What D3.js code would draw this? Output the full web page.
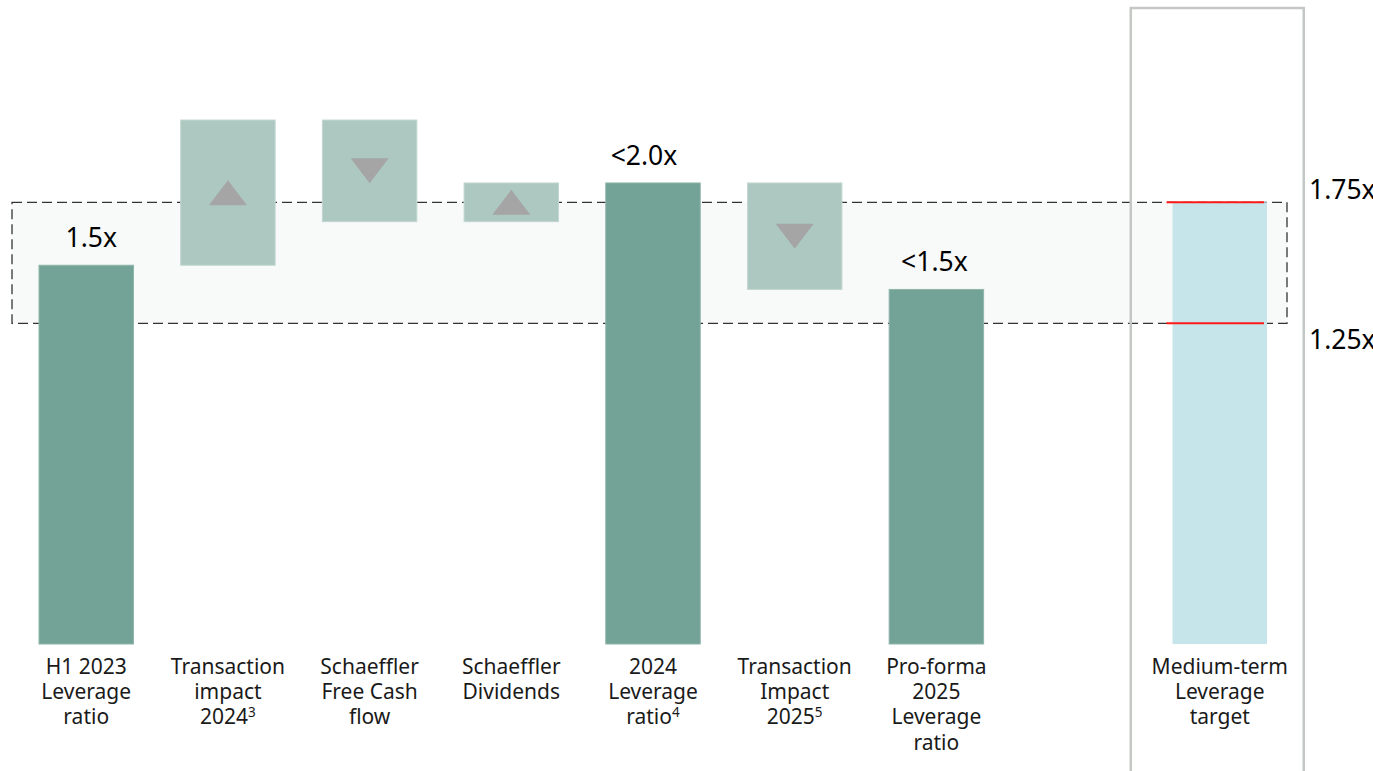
<!DOCTYPE html>
<html>
<head>
<meta charset="utf-8">
<script src="https://cdn.jsdelivr.net/npm/d3@7"></script>
<style>
  body { margin: 0; background: #fff; }
  svg { display: block; font-family: "Noto Sans", sans-serif; }
</style>
</head>
<body>
<div id="chart"></div>
<script>
// chart data
var steps = ["h1", "trans24", "fcf", "div", "lev24", "trans25", "pro25", "gap", "target"];
var kinds = ["total", "delta", "delta", "delta", "total", "delta", "total", "gap", "target"];
var values = [1.49, 0.60, -0.42, 0.16, null, -0.44, null, null, 1.75];
var valueLabels = ["1.5x", "", "", "", "<2.0x", "", "<1.5x", "", ""];
var labels = [
  ["H1 2023", "Leverage", "ratio"],
  ["Transaction", "impact", "2024"],
  ["Schaeffler", "Free Cash", "flow"],
  ["Schaeffler", "Dividends"],
  ["2024", "Leverage", "ratio"],
  ["Transaction", "Impact", "2025"],
  ["Pro-forma", "2025", "Leverage", "ratio"],
  [],
  ["Medium-term", "Leverage", "target"]
];
var footnotes = ["", "3", "", "", "4", "5", "", "", ""];
var targetRange = [1.25, 1.75];
var targetLabels = ["1.25x", "1.75x"];
var yMin = -0.075, yMax = 2.4;

// small horizontal nudges of the value labels, as in the original slide
var labelNudge = [5, 0, 0, 0, -9, 0, -2, 0, 0];

var width = 1373, height = 771;

var svg = d3.select("#chart")
    .append("svg")
    .attr("width", width)
    .attr("height", height);

var x = d3.scaleBand()
    .domain(steps)
    .range([39, 1267])
    .paddingInner(1 / 3)
    .paddingOuter(0);

var y = d3.scaleLinear()
    .domain([yMin, yMax])
    .range([644, 45]);

var bw = x.bandwidth();

// build waterfall segments
var running = 0;
var segs = steps.map(function(s, i) {
  var k = kinds[i], v = values[i], lo, hi;
  if (k == "total") {
    if (v != null) running = v;
    lo = yMin; hi = running;
  } else if (k == "delta") {
    lo = Math.min(running, running + v);
    hi = Math.max(running, running + v);
    running += v;
  } else if (k == "target") {
    lo = yMin; hi = v;
  }
  return {key: s, kind: k, v: v, lo: lo, hi: hi, i: i};
});

// dashed target band across the chart
var bandX0 = x(steps[0]) - 27,
    bandX1 = x(steps[steps.length - 1]) + bw + 20;
svg.append("rect")
    .attr("x", bandX0)
    .attr("y", y(targetRange[1]))
    .attr("width", bandX1 - bandX0)
    .attr("height", y(targetRange[0]) - y(targetRange[1]))
    .attr("fill", "#f8faf9")
    .attr("stroke", "#333")
    .attr("stroke-width", 1.3)
    .attr("stroke-dasharray", "10,5");

// bars
var bars = segs.filter(function(d) { return d.kind != "gap"; });
svg.selectAll(".bar")
    .data(bars)
    .enter().append("rect")
    .attr("class", "bar")
    .attr("x", function(d) { return x(d.key); })
    .attr("y", function(d) { return y(d.hi); })
    .attr("width", bw)
    .attr("height", function(d) { return y(d.lo) - y(d.hi); })
    .attr("fill", function(d) {
      return d.kind == "total" ? "#73a296" : d.kind == "delta" ? "#adc8c0" : "#c5e5ea";
    })
    .attr("stroke", function(d) {
      return d.kind == "target" ? "none" : d.kind == "total" ? "#8fb5aa" : "#c3d7d1";
    })
    .attr("stroke-width", 1);

// up / down triangles in the delta boxes
var tw = 38, th = 25;
svg.selectAll(".tri")
    .data(segs.filter(function(d) { return d.kind == "delta"; }))
    .enter().append("path")
    .attr("class", "tri")
    .attr("fill", "#a5a5a5")
    .attr("d", function(d) {
      var cx = x(d.key) + bw / 2,
          cy = (y(d.hi) + y(d.lo)) / 2;
      if (d.v > 0) {
        return "M" + (cx - tw / 2) + "," + (cy + th / 2) + "L" + cx + "," + (cy - th / 2) +
          "L" + (cx + tw / 2) + "," + (cy + th / 2) + "Z";
      }
      return "M" + (cx - tw / 2) + "," + (cy - th / 2) + "L" + cx + "," + (cy + th / 2) +
        "L" + (cx + tw / 2) + "," + (cy - th / 2) + "Z";
    });

// grey frame round the medium-term target
var tx = x("target");
svg.append("rect")
    .attr("x", tx + bw / 2 - 89)
    .attr("y", 8)
    .attr("width", 173)
    .attr("height", 800)
    .attr("fill", "none")
    .attr("stroke", "#c4c8c4")
    .attr("stroke-width", 2.5);

// red limit lines
svg.selectAll(".limit")
    .data(targetRange)
    .enter().append("line")
    .attr("x1", tx - 6)
    .attr("x2", tx + bw - 3)
    .attr("y1", function(d) { return y(d); })
    .attr("y2", function(d) { return y(d); })
    .attr("stroke", "#ff1a1a")
    .attr("stroke-width", 2);

// limit labels
svg.selectAll(".limitLabel")
    .data(targetRange)
    .enter().append("text")
    .attr("x", 1309)
    .attr("y", function(d, i) { return i == 0 ? y(d) + 26 : y(d) - 3; })
    .attr("font-size", 26.5)
    .attr("fill", "#000")
    .text(function(d, i) { return targetLabels[i]; });

// value labels on totals
svg.selectAll(".valueLabel")
    .data(segs.filter(function(d) { return valueLabels[d.i]; }))
    .enter().append("text")
    .attr("x", function(d) { return x(d.key) + bw / 2 + labelNudge[d.i]; })
    .attr("y", function(d) { return y(d.hi) - 18; })
    .attr("text-anchor", "middle")
    .attr("font-size", 26.5)
    .attr("fill", "#000")
    .text(function(d) { return valueLabels[d.i]; });

// category labels
segs.forEach(function(d) {
  var lines = labels[d.i];
  var t = svg.append("text")
      .attr("text-anchor", "middle")
      .attr("font-size", 21)
      .attr("fill", "#1a1a1a");
  lines.forEach(function(line, j) {
    var ts = t.append("tspan")
        .attr("x", x(d.key) + bw / 2)
        .attr("y", 674 + j * 25.2)
        .text(line);
    if (j == lines.length - 1 && footnotes[d.i]) {
      ts.append("tspan")
          .attr("font-size", 13.5)
          .attr("dy", -7)
          .text(footnotes[d.i]);
    }
  });
});
</script>
</body>
</html>
